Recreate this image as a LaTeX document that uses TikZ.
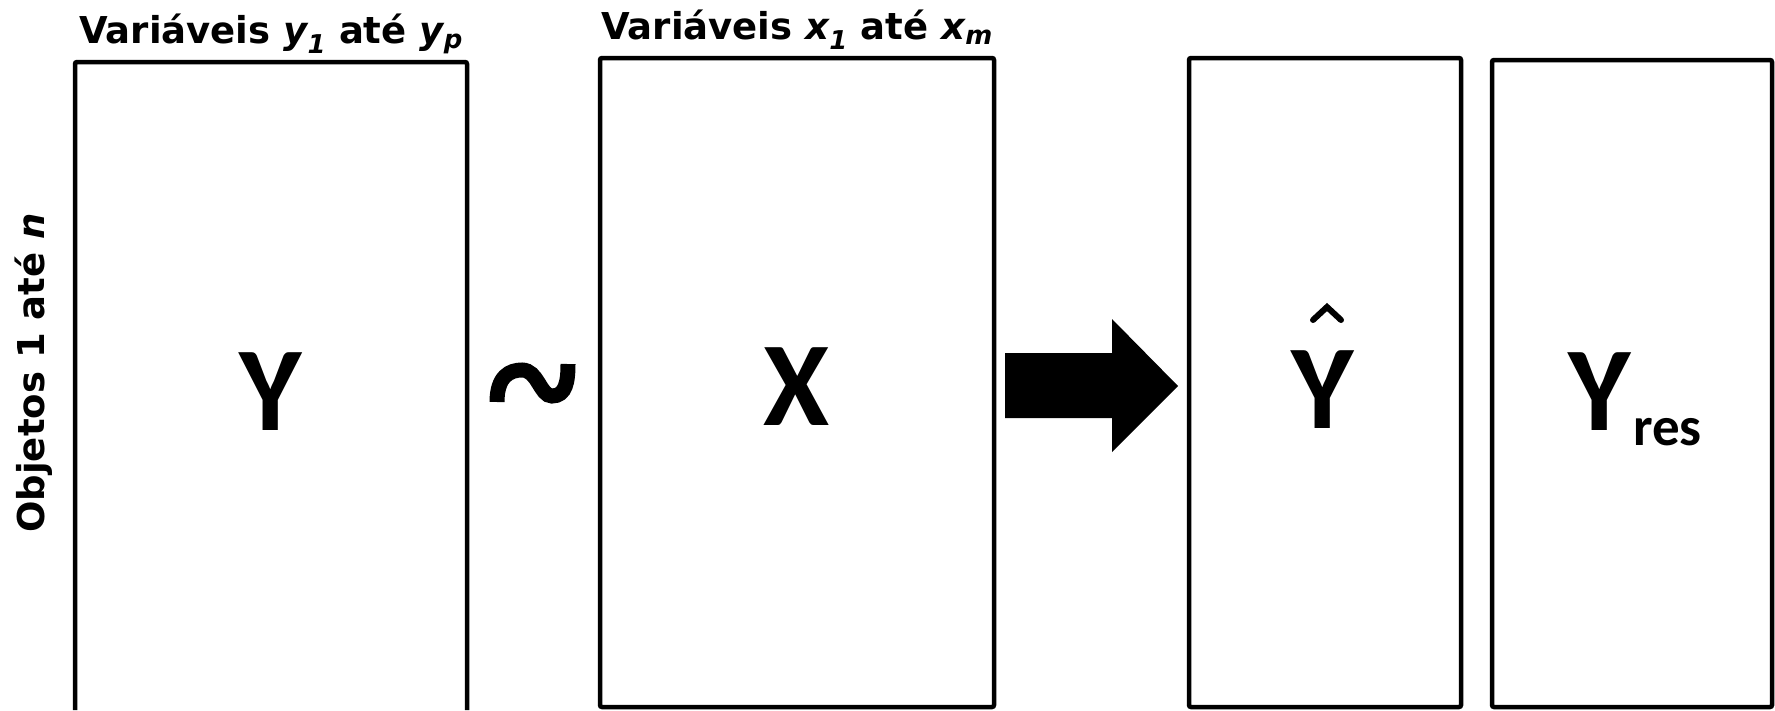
\documentclass[tikz,border=0pt]{standalone}
\usepackage{fontspec}
\setmainfont{DejaVu Sans}
\newfontfamily\calib{Carlito}
\begin{document}
\begin{tikzpicture}[x=1pt,y=-1pt,
  box/.style={draw, line width=4.5pt, rounded corners=2pt, inner sep=0pt, outer sep=0pt, anchor=north west},
  lab/.style={font=\fontsize{37}{44}\selectfont\bfseries, inner sep=0pt, anchor=base},
  big/.style={font=\calib\fontsize{120}{130}\selectfont\bfseries, inner sep=0pt, anchor=base},
  small/.style={font=\calib\fontsize{55}{62}\selectfont\bfseries, inner sep=0pt, anchor=base west}]
\useasboundingbox (0,0) rectangle (1775,710);
% Y box (open at bottom)
\node[inner sep=0pt, outer sep=0pt, minimum width=392pt, minimum height=648pt, anchor=north west] (ybox) at (75,62) {};
\draw[line width=4.5pt, rounded corners=2pt] (ybox.south west) -- (ybox.north west) -- (ybox.north east) -- (ybox.south east);
\node[box, minimum width=394pt, minimum height=649pt] (xbox) at (600,58) {};
\node[box, minimum width=272pt, minimum height=649pt] (hbox) at (1189,58) {};
\node[box, minimum width=280pt, minimum height=647pt] (rbox) at (1492,60) {};
% labels
\node[lab] (ylab) at (271,43) {Variáveis \textit{y\textsubscript{1}} até \textit{y\textsubscript{p}}};
\node[lab] (xlab) at (797,39) {Variáveis \textit{x\textsubscript{1}} até \textit{x\textsubscript{m}}};
\node[lab, rotate=90] (olab) at (44,373) {Objetos 1 até \textit{n}};
% big letters
\node[big] (yl) at (271,430) {Y};
\node[big] (xl) at (797,425) {X};
\node[big] (hl) at (1323,428) {Y};
\draw[line width=6pt, line cap=round] (1313,320) -- (1327,307) -- (1341,320);
\node[big] (rl) at (1600,430) {Y};
\node[small] (res) at (1633,445) {res};
% tilde
\draw[line width=15pt] (497,402) .. controls (497,376) and (510,370) .. (522,370) .. controls (538,370) and (540,396) .. (552,396) .. controls (566,396) and (568,381) .. (568,364);
% block arrow
\fill (1005,353) -- (1112,353) -- (1112,319) -- (1178,386) -- (1112,452) -- (1112,418) -- (1005,418) -- cycle;
\end{tikzpicture}
\end{document}
